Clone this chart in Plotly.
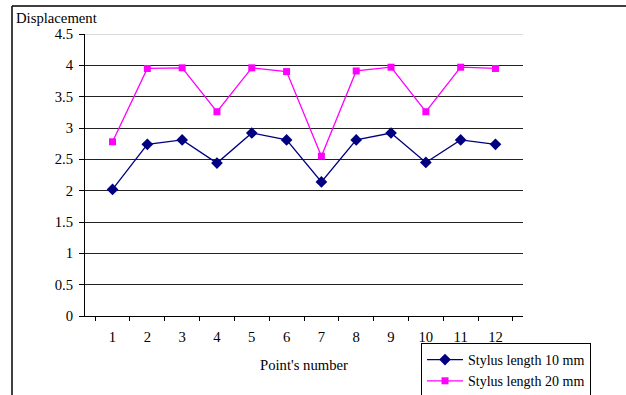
import plotly.graph_objects as go

points = [str(i) for i in range(1, 13)]
stylus_10 = [2.02, 2.74, 2.81, 2.44, 2.92, 2.81, 2.14, 2.81, 2.92, 2.45, 2.81, 2.74]
stylus_20 = [2.78, 3.95, 3.96, 3.26, 3.96, 3.90, 2.55, 3.91, 3.97, 3.26, 3.97, 3.95]
y_ticks = [0, 0.5, 1, 1.5, 2, 2.5, 3, 3.5, 4, 4.5]
y_labels = ["0", "0.5", "1", "1.5", "2", "2.5", "3", "3.5", "4", "4.5"]

FONT = "'Times New Roman', 'Liberation Serif', serif"
FS = 14.7
W, H = 626, 395
L, R, T, B = 85, 103, 34, 79
pw, ph = W - L - R, H - T - B

def px(x):
    return (x - L) / pw

def py(y):
    return (H - B - y) / ph

fig = go.Figure()
fig.add_trace(go.Scatter(
    x=points, y=stylus_10, mode="lines+markers", name="Stylus length 10 mm",
    line=dict(color="#000080", width=1.3),
    marker=dict(symbol="diamond", size=9, color="#000080"),
))
fig.add_trace(go.Scatter(
    x=points, y=stylus_20, mode="lines+markers", name="Stylus length 20 mm",
    line=dict(color="#FF00FF", width=1.3),
    marker=dict(symbol="square", size=7, color="#FF00FF"),
))

fig.update_layout(
    width=W, height=H,
    margin=dict(l=L, r=R, t=T, b=B, autoexpand=False),
    paper_bgcolor="white", plot_bgcolor="white",
    font=dict(family=FONT, size=FS, color="black"),
    showlegend=True,
    legend=dict(
        x=px(421), y=py(343), xanchor="left", yanchor="top",
        bordercolor="black", borderwidth=1, bgcolor="white",
        font=dict(family=FONT, size=14, color="black"),
        itemwidth=36, tracegroupgap=0,
    ),
    xaxis=dict(
        type="category", tickson="boundaries", ticks="outside", ticklen=4,
        tickcolor="black", showline=True, linecolor="black", linewidth=1,
        showgrid=False, zeroline=False, automargin=False,
        tickfont=dict(family=FONT, size=FS, color="black"),
        ticklabelstandoff=7,
        title=dict(text="Point's number", font=dict(family=FONT, size=FS, color="black"), standoff=16),
    ),
    yaxis=dict(
        range=[0, 4.5], tickvals=y_ticks, ticktext=y_labels,
        ticks="outside", ticklen=5, tickcolor="black",
        showline=True, linecolor="black", linewidth=1, automargin=False,
        showgrid=True, gridcolor="#222222", gridwidth=1, zeroline=False,
        tickfont=dict(family=FONT, size=FS, color="black"),
        ticklabelstandoff=3,
    ),
    annotations=[dict(
        text="Displacement", xref="paper", yref="paper",
        x=px(14), y=py(18), xanchor="left", yanchor="middle",
        showarrow=False, font=dict(family=FONT, size=FS, color="black"),
    )],
    shapes=[
        dict(type="line", xref="paper", yref="y", x0=0, x1=1,
             y0=y_ticks[-1], y1=y_ticks[-1], line=dict(color="#d0d0d0", width=1.5)),
        dict(type="line", xref="paper", yref="paper", x0=px(12), x1=px(12),
             y0=py(395), y1=py(6), line=dict(color="black", width=1.5)),
        dict(type="line", xref="paper", yref="paper", x0=px(12), x1=px(626),
             y0=py(6), y1=py(6), line=dict(color="black", width=1.5)),
    ],
)

fig.write_html(
    "out.html",
    config={"displayModeBar": False},
    post_script="document.body.style.margin='0';document.body.style.padding='0';",
)
